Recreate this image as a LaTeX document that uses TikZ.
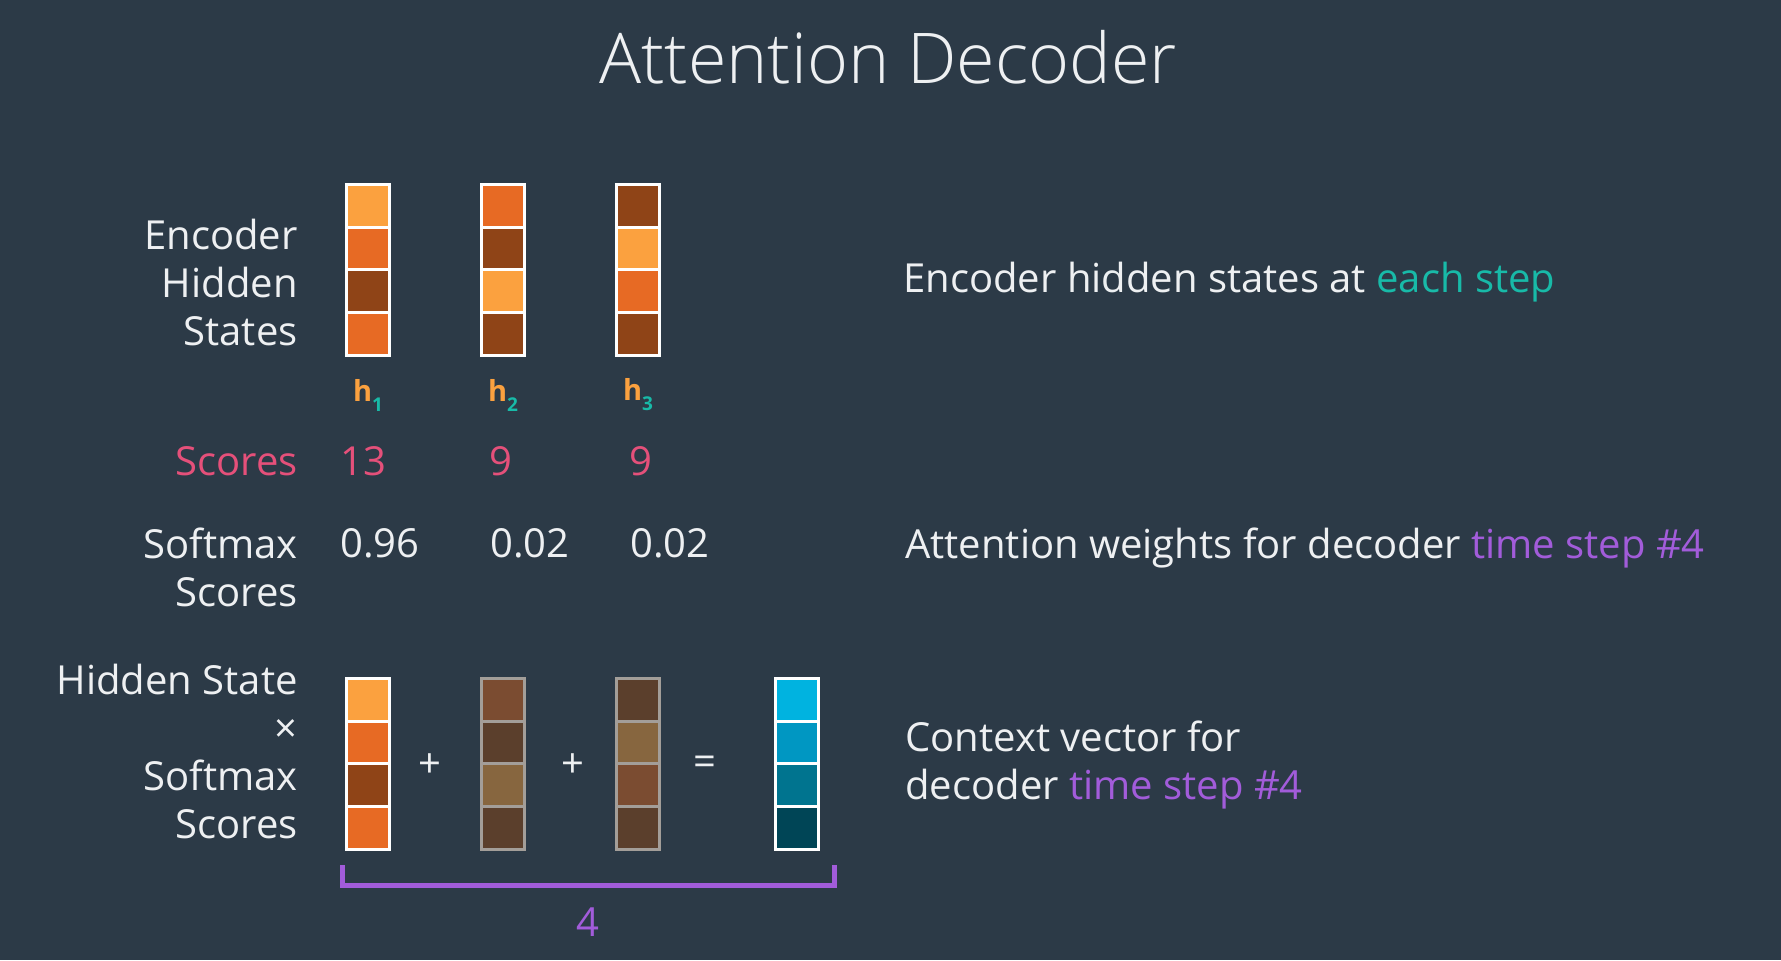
\documentclass[tikz,border=0pt]{standalone}
\usepackage{fontspec}
\setmainfont{Open Sans}
\newfontfamily\lightfont{Open Sans Light}
\definecolor{bg}{HTML}{2C3A47}
\definecolor{txt}{HTML}{EEF0F2}
\definecolor{lor}{HTML}{FBA13F}
\definecolor{mor}{HTML}{E76A24}
\definecolor{dor}{HTML}{8F4417}
\definecolor{wa}{HTML}{7B4C31}
\definecolor{wb}{HTML}{5B3F2C}
\definecolor{wc}{HTML}{87663F}
\definecolor{ca}{HTML}{00B3E0}
\definecolor{cb}{HTML}{0097C2}
\definecolor{cc}{HTML}{00748F}
\definecolor{cd}{HTML}{004556}
\definecolor{accteal}{HTML}{18BAA8}
\definecolor{accpink}{HTML}{E5507A}
\definecolor{accpurple}{HTML}{A25CDA}
\definecolor{dimborder}{HTML}{A39E99}
\newcommand{\cellvec}[8]{%
  \foreach \cc [count=\ii] in {#5,#6,#7,#8}{
    \node[cell, fill=\cc, draw=#4] (#1-\ii) at (#2, {#3+1.5+(\ii-0.5)*42.75}) {};
  }}
\newcommand{\hlab}[1]{{\color{lor}\bfseries h}\raisebox{-5pt}{\fontsize{9.5}{9.5}\selectfont\bfseries\color{accteal}#1}}
\tikzset{
  lbl/.style={text=txt, font=\fontsize{20}{24}\selectfont, inner sep=0pt},
  ttl/.style={text=txt, font=\lightfont\fontsize{35}{40}\selectfont, inner sep=0pt},
  hl/.style={font=\fontsize{14.5}{18}\selectfont, inner sep=0pt},
  cell/.style={line width=1.5pt, minimum width=21.5pt, minimum height=21.4pt, inner sep=0pt},
  brk/.style={draw=accpurple, line width=2.5pt},
}
\begin{document}
\begin{tikzpicture}[x=0.5pt,y=-0.5pt]
\fill[bg] (0,0) rectangle (1781,960);
\useasboundingbox (0,0) rectangle (1781,960);

\node[ttl] (title) at (888,57) {Attention Decoder};

% left labels
\node[lbl, align=right, anchor=east] (enclbl) at (298,282) {Encoder\\Hidden\\States};
\node[lbl, anchor=east, text=accpink] (scorelbl) at (298,461) {Scores};
\node[lbl, align=right, anchor=east] (smlbl) at (298,567) {Softmax\\Scores};
\node[lbl, align=right, anchor=east] (hsmlbl) at (298,751) {Hidden State\\×\\Softmax\\Scores};

% encoder hidden states
\cellvec{h1}{368}{183}{white}{lor}{mor}{dor}{mor}
\cellvec{h2}{503}{183}{white}{mor}{dor}{lor}{dor}
\cellvec{h3}{638}{183}{white}{dor}{lor}{mor}{dor}

\node[hl] (hl1) at (368,395) {\hlab{1}};
\node[hl] (hl2) at (503,395) {\hlab{2}};
\node[hl] (hl3) at (638,395) {\hlab{3}};

% scores
\node[lbl, text=accpink] (s1) at (363,461) {13};
\node[lbl, text=accpink] (s2) at (501,461) {9};
\node[lbl, text=accpink] (s3) at (641,461) {9};

% softmax
\node[lbl] (p1) at (380,543) {0.96};
\node[lbl] (p2) at (530,543) {0.02};
\node[lbl] (p3) at (670,543) {0.02};

% weighted vectors
\cellvec{w1}{368}{677}{white}{lor}{mor}{dor}{mor}
\cellvec{w2}{503}{677}{dimborder}{wa}{wb}{wc}{wb}
\cellvec{w3}{638}{677}{dimborder}{wb}{wc}{wa}{wb}
\cellvec{cv}{796.5}{677}{white}{ca}{cb}{cc}{cd}

\node[lbl] (plus1) at (430,766) {+};
\node[lbl] (plus2) at (573,766) {+};
\node[lbl] (eq) at (705,766) {=};

% bracket
\coordinate (b1) at (342.5,865);
\coordinate (b2) at (342.5,885.5);
\coordinate (b3) at (834.5,885.5);
\coordinate (b4) at (834.5,865);
\draw[brk] (b1) -- (b2) -- (b3) -- (b4);
\node[lbl, text=accpurple] (four) at (588,922) {4};

% right texts
\node[lbl, anchor=west] (r1) at (903,282) {Encoder hidden states at {\color{accteal}each step}};
\node[lbl, anchor=west] (r2) at (905,548) {Attention weights for decoder {\color{accpurple}time step \#4}};
\node[lbl, anchor=west, align=left] (r3) at (905,765) {Context vector for\\decoder {\color{accpurple}time step \#4}};
\end{tikzpicture}
\end{document}
